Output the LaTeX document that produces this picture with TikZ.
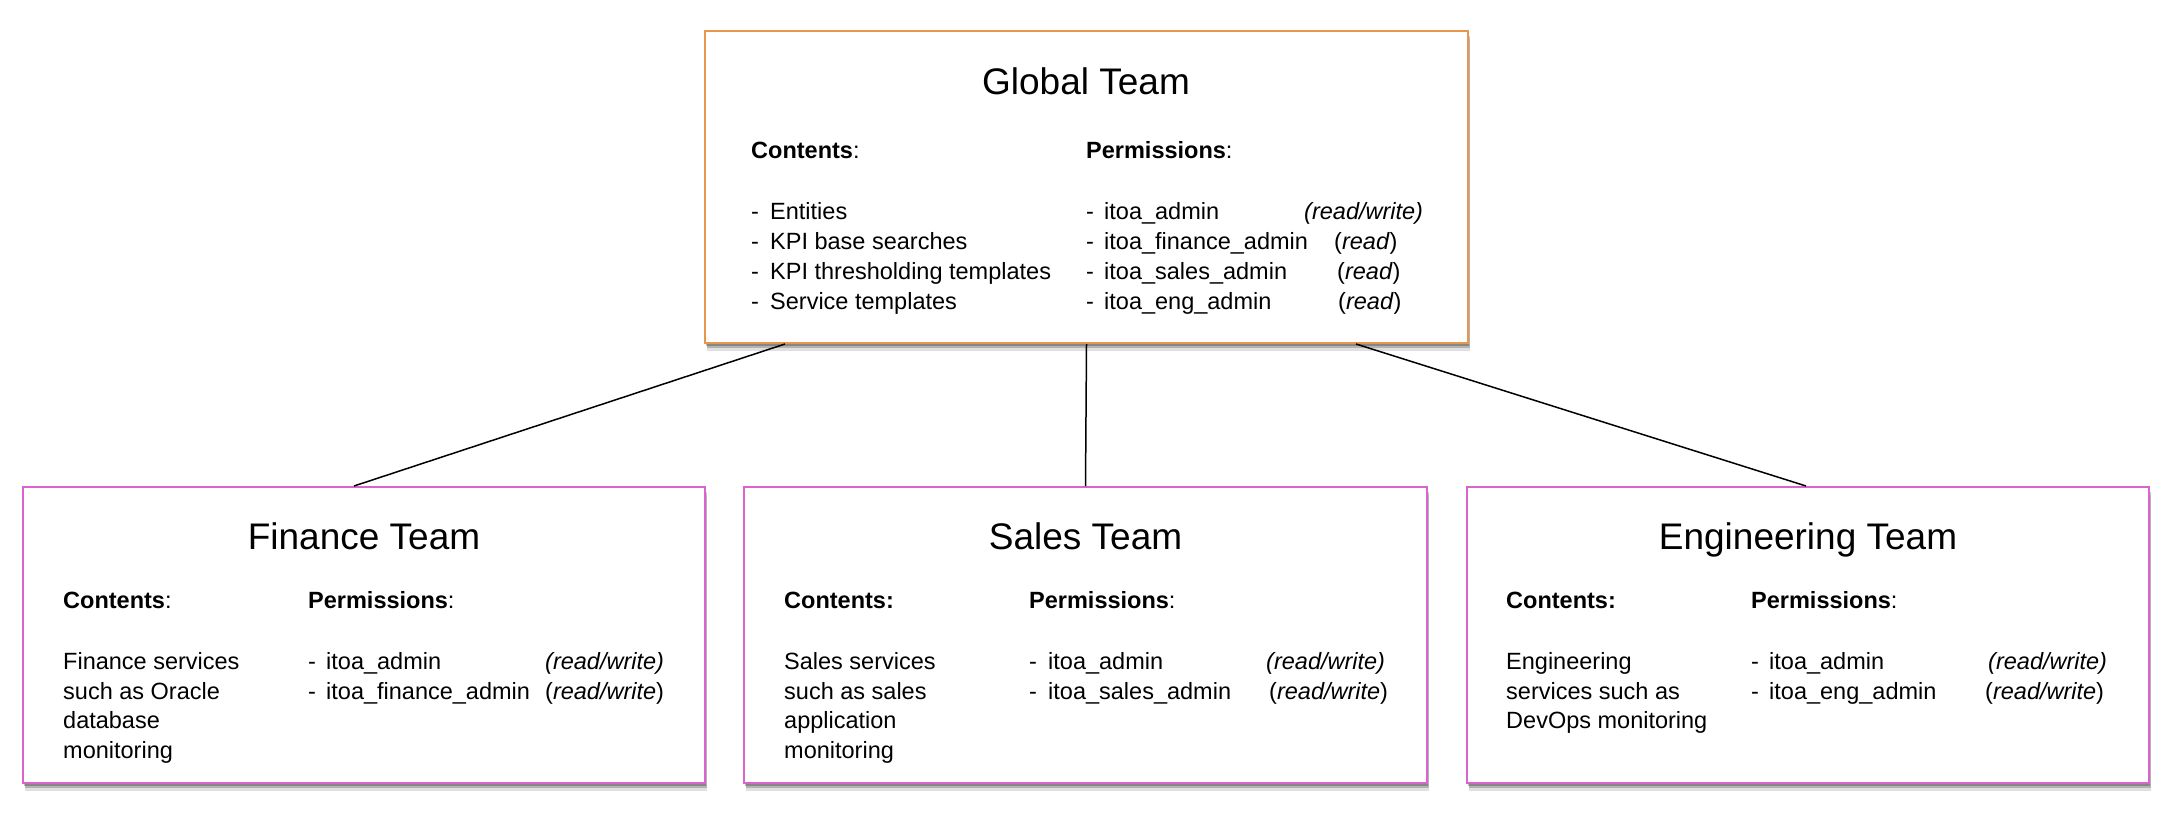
\documentclass[tikz,border=0pt]{standalone}
\usepackage{fontspec}
\setmainfont{Liberation Sans}
\usetikzlibrary{shadows}
\definecolor{orangeC}{HTML}{E8964A}
\definecolor{magC}{HTML}{D963CF}
\tikzset{
  boxbase/.style={rectangle, line width=2pt, fill=white, inner sep=0pt,
    drop shadow={shadow xshift=2pt, shadow yshift=-8pt, opacity=0.12, fill=black},
    drop shadow={shadow xshift=1.5pt, shadow yshift=-5pt, opacity=0.2, fill=black},
    drop shadow={shadow xshift=1pt, shadow yshift=-2.5pt, opacity=0.25, fill=black}},
  gbox/.style={boxbase, draw=orangeC},
  tbox/.style={boxbase, draw=magC},
  ttl/.style={font=\fontsize{37}{44}\selectfont, anchor=base, inner sep=0pt},
  txt/.style={font=\fontsize{23.5}{30}\selectfont, anchor=base west, inner sep=0pt},
  link/.style={line width=1.5pt, black}
}
\begin{document}
\begin{tikzpicture}[x=1pt,y=-1pt]
\useasboundingbox[fill=white] (0,0) rectangle (2178,824);

% boxes
\node[gbox, minimum width=763pt, minimum height=312pt] (global) at (1086.5,187) {};
\node[tbox, minimum width=682pt, minimum height=296pt] (fin) at (364,635) {};
\node[tbox, minimum width=683pt, minimum height=296pt] (sal) at (1085.5,635) {};
\node[tbox, minimum width=682pt, minimum height=296pt] (eng) at (1808,635) {};

% connectors
\draw[link] ([xshift=-301.5pt]global.south) -- ([xshift=-10pt]fin.north);
\draw[link] (global.south) -- (sal.north);
\draw[link] ([xshift=269.5pt]global.south) -- ([xshift=-2pt]eng.north);

% Global team
\node[ttl] (gt) at (1086,95) {Global Team};
\node[txt] (gc) at (751,158) {\textbf{Contents}:};
\node[txt] (gp) at (1086,158) {\textbf{Permissions}:};
\node[txt] (gd1) at (751,219) {-};
\node[txt] (gi1) at (770,219) {Entities};
\node[txt] (gd2) at (751,249) {-};
\node[txt] (gi2) at (770,249) {KPI base searches};
\node[txt] (gd3) at (751,279) {-};
\node[txt] (gi3) at (770,279) {KPI thresholding templates};
\node[txt] (gd4) at (751,309) {-};
\node[txt] (gi4) at (770,309) {Service templates};
\node[txt] (gpd1) at (1086,219) {-};
\node[txt] (gp1) at (1104,219) {itoa\_admin};
\node[txt] (gr1) at (1304,219) {\textit{(read/write)}};
\node[txt] (gpd2) at (1086,249) {-};
\node[txt] (gp2) at (1104,249) {itoa\_finance\_admin};
\node[txt] (gr2) at (1334,249) {(\textit{read})};
\node[txt] (gpd3) at (1086,279) {-};
\node[txt] (gp3) at (1104,279) {itoa\_sales\_admin};
\node[txt] (gr3) at (1337,279) {(\textit{read})};
\node[txt] (gpd4) at (1086,309) {-};
\node[txt] (gp4) at (1104,309) {itoa\_eng\_admin};
\node[txt] (gr4) at (1338,309) {(\textit{read})};

% Finance team
\node[ttl] (ft) at (364,549) {Finance Team};
\node[txt] (fc) at (63,608) {\textbf{Contents}:};
\node[txt] (fp) at (308,608) {\textbf{Permissions}:};
\node[txt] (fl1) at (63,669) {Finance services};
\node[txt] (fl2) at (63,699) {such as Oracle};
\node[txt] (fl3) at (63,728) {database};
\node[txt] (fl4) at (63,758) {monitoring};
\node[txt] (fpd1) at (308,669) {-};
\node[txt] (fp1) at (326,669) {itoa\_admin};
\node[txt] (fr1) at (545,669) {\textit{(read/write)}};
\node[txt] (fpd2) at (308,699) {-};
\node[txt] (fp2) at (326,699) {itoa\_finance\_admin};
\node[txt] (fr2) at (545,699) {(\textit{read/write})};

% Sales team
\node[ttl] (st) at (1085.5,549) {Sales Team};
\node[txt] (sc) at (784,608) {\textbf{Contents:}};
\node[txt] (sp) at (1029,608) {\textbf{Permissions}:};
\node[txt] (sl1) at (784,669) {Sales services};
\node[txt] (sl2) at (784,699) {such as sales};
\node[txt] (sl3) at (784,728) {application};
\node[txt] (sl4) at (784,758) {monitoring};
\node[txt] (spd1) at (1029,669) {-};
\node[txt] (sp1) at (1048,669) {itoa\_admin};
\node[txt] (sr1) at (1266,669) {\textit{(read/write)}};
\node[txt] (spd2) at (1029,699) {-};
\node[txt] (sp2) at (1048,699) {itoa\_sales\_admin};
\node[txt] (sr2) at (1269,699) {(\textit{read/write})};

% Engineering team
\node[ttl] (et) at (1808,549) {Engineering Team};
\node[txt] (ec) at (1506,608) {\textbf{Contents:}};
\node[txt] (ep) at (1751,608) {\textbf{Permissions}:};
\node[txt] (el1) at (1506,669) {Engineering};
\node[txt] (el2) at (1506,699) {services such as};
\node[txt] (el3) at (1506,728) {DevOps monitoring};
\node[txt] (epd1) at (1751,669) {-};
\node[txt] (ep1) at (1769,669) {itoa\_admin};
\node[txt] (er1) at (1988,669) {\textit{(read/write)}};
\node[txt] (epd2) at (1751,699) {-};
\node[txt] (ep2) at (1769,699) {itoa\_eng\_admin};
\node[txt] (er2) at (1985,699) {(\textit{read/write})};
\end{tikzpicture}
\end{document}
